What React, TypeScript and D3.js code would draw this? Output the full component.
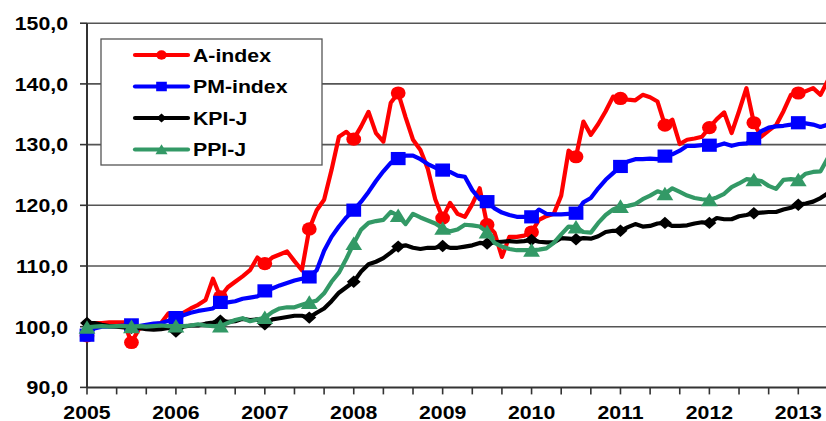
import React from "react";
import * as d3 from "d3";

// monthly values, Jan 2005 .. May 2013
const aIndex = [
  98.5, 100.6, 100.6, 100.7, 100.7, 100.7, 97.4, 99.6, 100.0, 100.3,
  100.6, 102.2, 101.5, 102.3, 103.0, 103.6, 104.4, 107.9, 104.9, 106.5,
  107.4, 108.3, 109.3, 111.4, 110.4, 111.4, 111.9, 112.4, 110.8, 109.3,
  116.1, 119.2, 120.9, 125.8, 131.3, 132.1, 130.9, 133.0, 135.4, 131.9,
  130.5, 136.9, 138.5, 134.5, 130.8, 129.1, 126.0, 121.0, 117.9, 120.4,
  118.6, 118.1, 120.2, 122.8, 116.8, 115.5, 111.5, 114.8, 114.8, 115.0,
  115.6, 117.6, 118.2, 118.6, 121.6, 129.0, 128.0, 133.8, 131.6, 133.4,
  135.5, 137.9, 137.6, 137.4, 137.3, 138.2, 137.8, 137.1, 133.2, 134.1,
  130.1, 130.8, 131.0, 131.3, 132.8, 134.2, 135.3, 131.9, 135.5, 139.3,
  133.6, 131.3, 132.3, 133.2, 135.5, 138.2, 138.5, 138.8, 139.3, 138.2,
  140.6,
];
const pmIndex = [
  98.6, 99.7, 100.0, 100.0, 100.1, 100.2, 100.3, 100.1, 100.3, 100.5,
  100.6, 101.0, 101.5, 101.9, 102.3, 102.6, 102.8, 103.0, 104.0, 104.0,
  104.2, 104.6, 104.8, 105.0, 105.9, 106.3, 106.8, 107.2, 107.6, 107.9,
  108.2, 109.3, 112.5, 114.8, 116.5, 118.0, 119.2, 120.6, 122.2, 124.0,
  125.6, 127.0, 127.7, 128.2, 128.2, 127.6, 126.8, 126.2, 125.8, 125.5,
  124.9, 124.7, 122.5, 121.0, 120.6, 119.5, 118.8, 118.4, 118.1, 118.1,
  118.1, 119.3, 118.6, 118.5, 118.5, 118.6, 118.7, 120.5, 121.2, 122.8,
  124.2, 125.3, 126.4, 127.2, 127.6, 127.6, 127.7, 127.6, 128.1, 128.4,
  129.0, 129.8, 129.8, 129.9, 129.9, 129.8, 130.2, 129.8, 130.1, 130.2,
  131.0, 132.2, 132.8, 133.0, 133.1, 133.3, 133.6, 133.5, 133.3, 132.9,
  133.3,
];
const kpiJ = [
  100.6, 100.6, 100.3, 100.1, 100.0, 99.9, 99.8, 99.8, 99.6, 99.5,
  99.6, 99.8, 99.2, 100.0, 100.2, 100.2, 100.5, 100.7, 101.0, 100.8,
  100.9, 101.3, 101.1, 101.2, 100.4, 101.2, 101.4, 101.6, 101.8, 101.8,
  101.5, 102.3, 103.0, 104.2, 105.6, 106.5, 107.4, 109.1, 110.3, 110.7,
  111.3, 112.2, 113.2, 113.4, 113.0, 112.8, 113.0, 113.0, 113.3, 113.0,
  113.0, 113.2, 113.4, 113.8, 113.7, 113.9, 114.0, 114.1, 114.0, 114.1,
  114.3, 114.0, 113.9, 113.9, 114.6, 114.5, 114.4, 114.6, 114.5, 114.9,
  115.6, 115.8, 115.8, 116.4, 116.9, 116.5, 116.6, 117.0, 117.1, 116.6,
  116.6, 116.7, 117.0, 117.2, 117.1, 117.9, 117.7, 117.7, 118.2, 118.4,
  118.7, 118.8, 118.9, 118.9, 119.3, 119.6, 120.1, 120.3, 120.6, 121.2,
  122.0,
];
const ppiJ = [
  99.9, 100.0, 100.1, 100.0, 100.1, 100.1, 100.0, 100.1, 100.0, 100.1,
  100.2, 100.1, 100.1, 100.1, 100.2, 100.4, 100.2, 100.1, 100.1, 100.6,
  101.1, 101.4, 100.9, 101.2, 101.5, 102.4, 103.0, 103.2, 103.2, 103.6,
  104.0, 104.3, 105.5, 107.4, 108.9, 111.2, 113.7, 116.0, 117.1, 117.4,
  117.6, 118.9, 118.3, 116.9, 118.6, 118.0, 117.5, 117.0, 116.2, 115.7,
  116.0, 116.8, 116.7, 116.5, 115.6, 113.8, 113.2, 112.8, 112.6, 112.6,
  112.6, 112.7, 112.9, 113.8, 115.2, 116.5, 116.4, 115.6, 115.5, 117.1,
  118.4, 119.3, 119.8, 119.9, 120.2, 121.0, 121.6, 122.3, 121.9, 122.8,
  122.2, 121.6, 121.2, 121.0, 120.9, 121.3, 121.9, 123.0, 123.6, 124.3,
  124.2, 124.0, 123.2, 122.7, 124.2, 124.3, 124.2, 125.2, 125.5, 125.6,
  127.8,
];

const years = [2005, 2006, 2007, 2008, 2009, 2010, 2011, 2012, 2013];
const yTicks = [90, 100, 110, 120, 130, 140, 150];

const series = [
  { name: "A-index", values: aIndex, color: "#ff0000", shape: "circle" },
  { name: "PM-index", values: pmIndex, color: "#0000ff", shape: "square" },
  { name: "KPI-J", values: kpiJ, color: "#000000", shape: "diamond" },
  { name: "PPI-J", values: ppiJ, color: "#339966", shape: "triangle" },
];

const W = 826;
const H = 421;
const SX = 1.12; // picture is stretched sideways
const FONT = "'Liberation Sans', Arial, sans-serif";

const markerPath = (shape, s) => {
  if (shape === "circle") return `M${-s},0A${s},${s} 0 1,0 ${s},0A${s},${s} 0 1,0 ${-s},0Z`;
  if (shape === "square") return `M${-s},${-s}H${s}V${s}H${-s}Z`;
  if (shape === "diamond") return `M0,${-s}L${s},0L0,${s}L${-s},0Z`;
  return `M0,${-s * 1.05}L${s * 1.1},${s * 0.95}L${-s * 1.1},${s * 0.95}Z`;
};

const markerSize = { circle: 6.6, square: 6.6, diamond: 6.2, triangle: 6.8 };

const App = () => {
  const x = d3.scaleLinear().domain([0, 96]).range([87, 798.3]);
  const y = d3.scaleLinear().domain([90, 150]).range([387.4, 23.2]);
  const line = d3
    .line<number>()
    .x((d, i) => x(i))
    .y((d) => y(d));

  const fmt = (v) => d3.format(".1f")(v).replace(".", ",");
  const minorTicks = d3.range(0, 101, 4);

  return (
    <div style={{ position: "absolute", left: 0, top: 0 }}>
      <svg width={W} height={H} style={{ display: "block" }} fontFamily={FONT}>
        <rect width={W} height={H} fill="#fff" />
        {/* grid */}
        {yTicks.slice(1).map((t) => (
          <line key={t} x1={x(0)} x2={W} y1={y(t)} y2={y(t)} stroke="#555" strokeWidth={1.6} />
        ))}
        {/* y axis */}
        <line x1={x(0)} x2={x(0)} y1={y(150)} y2={y(90)} stroke="#333" strokeWidth={2} />
        {yTicks.map((t) => (
          <g key={t}>
            <line x1={x(0) - 7} x2={x(0)} y1={y(t)} y2={y(t)} stroke="#333" strokeWidth={1.6} />
            <text
              transform={`translate(68,${y(t) + 6.8}) scale(${SX},1)`}
              textAnchor="end"
              fontSize={19}
              fontWeight="bold"
              fill="#000"
            >
              {fmt(t)}
            </text>
          </g>
        ))}
        {/* x axis */}
        <line x1={x(0)} x2={W} y1={y(90)} y2={y(90)} stroke="#333" strokeWidth={2} />
        {minorTicks.map((m) => (
          <line key={m} x1={x(m)} x2={x(m)} y1={y(90)} y2={y(90) + 7} stroke="#333" strokeWidth={1.6} />
        ))}
        {years.map((yr, i) => (
          <text
            key={yr}
            transform={`translate(${x(i * 12)},418.5) scale(${SX},1)`}
            textAnchor="middle"
            fontSize={19}
            fontWeight="bold"
            fill="#000"
          >
            {yr}
          </text>
        ))}
        {/* series */}
        {series.map((s) => (
          <g key={s.name}>
            <path d={line(s.values)} fill="none" stroke={s.color} strokeWidth={4.2} strokeLinejoin="round" />
            {s.values.map((v, i) =>
              i % 6 === 0 ? (
                <path
                  key={i}
                  d={markerPath(s.shape, markerSize[s.shape])}
                  transform={`translate(${x(i)},${y(v)}) scale(${SX},1)`}
                  fill={s.color}
                />
              ) : null
            )}
          </g>
        ))}
        {/* legend */}
        <rect x={101} y={39} width={221} height={126} fill="#fff" stroke="#555" strokeWidth={1.3} />
        {series.map((s, i) => {
          const cy = 55 + i * 31.5;
          return (
            <g key={s.name}>
              <line x1={135} x2={188} y1={cy} y2={cy} stroke={s.color} strokeWidth={4.2} strokeLinecap="round" />
              <path
                d={markerPath(s.shape, markerSize[s.shape] * 0.72)}
                transform={`translate(161.5,${cy}) scale(${SX},1)`}
                fill={s.color}
              />
              <text
                transform={`translate(193,${cy + 6.8}) scale(${SX},1)`}
                fontSize={19}
                fontWeight="bold"
                fill="#000"
              >
                {s.name}
              </text>
            </g>
          );
        })}
      </svg>
    </div>
  );
};

export default App;
